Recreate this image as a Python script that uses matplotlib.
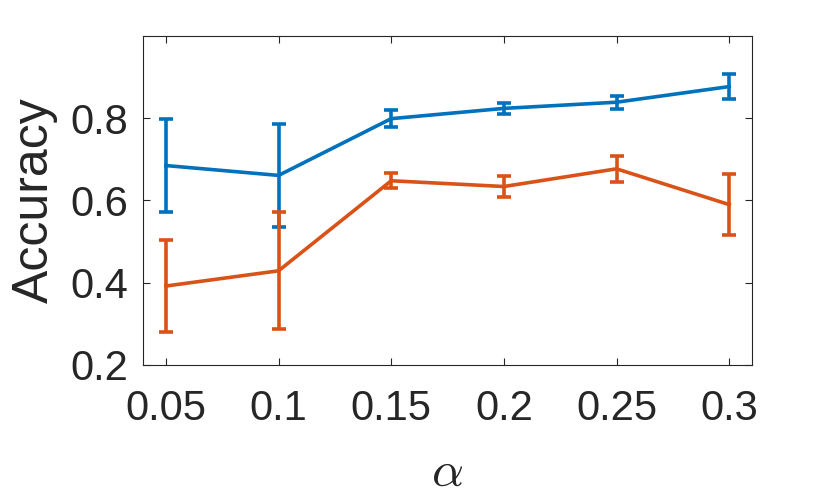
import numpy as np
import matplotlib
matplotlib.use('Agg')
import matplotlib.pyplot as plt

plt.rcParams['font.family'] = ['Liberation Sans', 'DejaVu Sans']
plt.rcParams['mathtext.fontset'] = 'cm'

alpha = [0.05, 0.1, 0.15, 0.2, 0.25, 0.3]
acc_blue = [0.685, 0.661, 0.799, 0.824, 0.839, 0.877]
err_blue = [0.112, 0.126, 0.020, 0.013, 0.016, 0.030]
acc_orange = [0.392, 0.429, 0.648, 0.634, 0.677, 0.590]
err_orange = [0.111, 0.142, 0.018, 0.026, 0.032, 0.075]
xtick_labels = ['0.05', '0.1', '0.15', '0.2', '0.25', '0.3']

fig = plt.figure(figsize=(8.3, 4.98), dpi=100)
ax = fig.add_axes([0.1727, 0.2671, 0.733, 0.6606])

ax.errorbar(alpha, acc_blue, yerr=err_blue, color='#0072BD', lw=2.6,
            capsize=4.9, capthick=2.6, elinewidth=2.6)
ax.errorbar(alpha, acc_orange, yerr=err_orange, color='#D95319', lw=2.6,
            capsize=4.9, capthick=2.6, elinewidth=2.6)

ax.set_xlim(0.04, 0.31)
ax.set_ylim(0.2, 1.0)
ax.set_xticks(alpha)
ax.set_xticklabels(xtick_labels)
ax.set_yticks([0.2, 0.4, 0.6, 0.8])
ax.set_yticklabels(['0.2', '0.4', '0.6', '0.8'])

for s in ax.spines.values():
    s.set_color('#262626')
    s.set_linewidth(0.8)
ax.tick_params(direction='in', top=True, right=True, length=5, width=0.8,
               color='#262626', labelcolor='#262626', labelsize=30)
ax.tick_params(axis='y', pad=11)
ax.tick_params(axis='x', pad=17)

ax.set_ylabel('Accuracy', fontsize=36, color='#262626', labelpad=9)
ax.set_xlabel(r'$\alpha$', fontsize=36, color='#262626', labelpad=15)

fig.savefig('out.png', dpi=100)
